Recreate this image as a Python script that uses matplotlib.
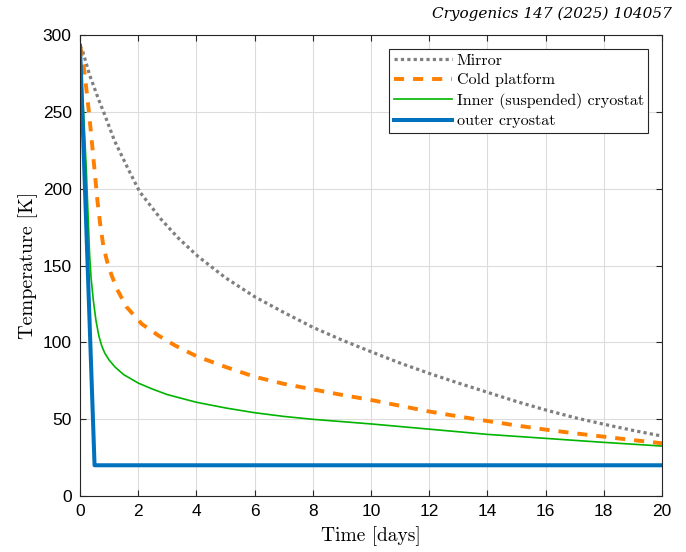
import matplotlib
matplotlib.use('Agg')
import matplotlib.pyplot as plt
import numpy as np

# DATA (time in days, temperature in K):
mirror_t = [0, 0.1, 0.33, 0.62, 0.85, 1.19, 1.65, 2.05, 2.79, 3.37, 4.05, 5, 6, 7, 8, 9, 10,
            11, 12, 13, 14, 15, 16, 17, 18, 19, 20]
mirror_T = [293, 289, 274, 259, 248, 231, 213, 198, 180, 168, 156, 142, 129.7, 119.5, 109.8,
            101.5, 93.9, 86.5, 79.8, 73.5, 67.5, 61.5, 56, 51, 46.7, 42.7, 39]

cold_t = [0, 0.1, 0.2, 0.3, 0.4, 0.5, 0.6, 0.7, 0.8, 0.9, 1.0, 1.26, 1.6, 2.12, 2.69, 3.26, 4,
          5, 6, 7, 8, 9, 10, 11, 12, 13, 14, 15, 16, 17, 18, 19, 20]
cold_T = [293, 284, 268, 251, 232, 212, 192, 176, 163, 155, 148, 135, 123, 112, 104.5, 98, 91,
          84, 77.6, 73, 69.4, 65.8, 62.5, 58.7, 55, 51.8, 48.8, 45.9, 43.2, 40.8, 38.6, 36.4, 34.3]

inner_t = [0, 0.11, 0.22, 0.33, 0.38, 0.46, 0.55, 0.65, 0.75, 0.85, 1.0, 1.2, 1.5, 2, 2.5, 3,
           4, 5, 6, 7, 8, 10, 12, 14, 16, 18, 20]
inner_T = [293, 255, 211, 157, 142, 127, 114, 104, 97.5, 93, 88.5, 84, 79, 73.5, 69.5, 66,
           61, 57.3, 54.2, 51.8, 49.9, 46.9, 43.5, 40.1, 37.5, 34.9, 32.5]

outer_t = [0, 0.5, 20]
outer_T = [293, 20, 20]

labels = ['Mirror', 'Cold platform', 'Inner (suspended) cryostat', 'outer cryostat']
xticks = np.arange(0, 21, 2)
yticks = np.arange(0, 301, 50)

# FIGURE:
fig = plt.figure(figsize=(6.86, 5.52), dpi=100)
ax = fig.add_axes([80 / 686, 56 / 552, 582 / 686, 461 / 552])

ax.plot(mirror_t, mirror_T, color='#7F7F7F', lw=2.3, linestyle=(0, (1, 1)), label=labels[0])
ax.plot(cold_t, cold_T, color='#FF8000', lw=2.8, linestyle=(0, (2.6, 2.3)), label=labels[1])
ax.plot(inner_t, inner_T, color='#00B400', lw=1.2, label=labels[2])
ax.plot(outer_t, outer_T, color='#0072BD', lw=2.9, label=labels[3])

ax.set_xlim(0, 20)
ax.set_ylim(0, 300)
ax.set_xticks(xticks)
ax.set_yticks(yticks)
ax.grid(True, color='#DCDCDC', lw=0.8)
ax.set_axisbelow(True)
ax.tick_params(direction='in', top=True, right=True, length=4, width=0.8,
               color='#262626', labelsize=12.5, pad=6)
for lab in ax.get_xticklabels() + ax.get_yticklabels():
    lab.set_family('Liberation Sans')
for sp in ax.spines.values():
    sp.set_color('#262626')
    sp.set_linewidth(0.8)

ax.set_xlabel('Time [days]', family='cmr10', fontsize=14, labelpad=5)
ax.set_ylabel('Temperature [K]', family='cmr10', fontsize=14.5, labelpad=3)

leg = ax.legend(loc='upper right', prop={'family': 'cmr10', 'size': 11.5}, fancybox=False,
                framealpha=1, edgecolor='#262626', borderaxespad=0.85, handlelength=3.6,
                labelspacing=0.34, borderpad=0.3, handletextpad=0.3)
leg.get_frame().set_linewidth(0.8)

fig.text(672 / 686, 1 - 14 / 552, 'Cryogenics 147 (2025) 104057', ha='right', va='center',
         family='DejaVu Serif', style='italic', fontsize=11)

fig.savefig('out.png', dpi=100)
